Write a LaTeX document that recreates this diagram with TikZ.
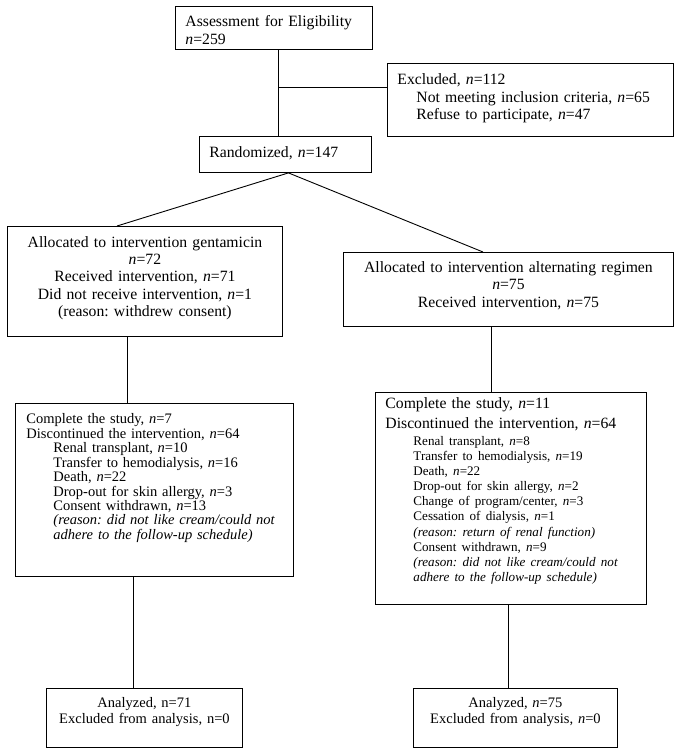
\documentclass[tikz,border=0pt]{standalone}
\usepackage{fontspec}
\setmainfont{Liberation Serif}
\usepackage{tikz}
\frenchspacing

\begin{document}
\begin{tikzpicture}[x=1pt,y=-1pt,line width=0.9pt,
  box/.style={draw,anchor=north west,inner ysep=0pt,inner xsep=10pt,align=left},
  midbox/.style={box,inner xsep=5pt,align=center},
  txt/.style={font=\fontsize{15.7}{17.3}\selectfont},
  smalltxt/.style={font=\fontsize{14.5}{14.46}\selectfont}]
\useasboundingbox (0,0) rectangle (681,752);

\draw (175,6) node[box,text width=177pt,text height=20pt,text depth=23pt,font=\fontsize{15.7}{18}\selectfont] (assess) {Assessment for Eligibility\\ \textit{n}=259};
\draw (387,63) node[box,txt,text width=266pt,text height=21.3pt,text depth=51.7pt] (excl) {Excluded, \textit{n}=112\\ \hspace*{19pt}Not meeting inclusion criteria, \textit{n}=65\\ \hspace*{19pt}Refuse to participate, \textit{n}=47};
\draw (199,136) node[box,txt,text width=152pt,text height=21.3pt,text depth=14.7pt] (rand) {Randomized, \textit{n}=147};

\draw (7,226) node[midbox,txt,text width=265pt,text height=20.7pt,text depth=89.3pt] (allocg) {Allocated to intervention gentamicin\\ \textit{n}=72\\ Received intervention, \textit{n}=71\\ Did not receive intervention, \textit{n}=1\\ (reason: withdrew consent)};
\draw (343,252) node[midbox,txt,text width=320pt,text height=20pt,text depth=54pt] (alloca) {Allocated to intervention alternating regimen\\ \textit{n}=75\\ Received intervention, \textit{n}=75};

\draw (15,403) node[box,smalltxt,inner xsep=11pt,text width=256pt,text height=20.3pt,text depth=152.7pt] (compg) {Complete the study, \textit{n}=7\\
  Discontinued the intervention, \textit{n}=64\\
  \hspace*{27pt}Renal transplant, \textit{n}=10\\
  \hspace*{27pt}Transfer to hemodialysis, \textit{n}=16\\
  \hspace*{27pt}Death, \textit{n}=22\\
  \hspace*{27pt}Drop-out for skin allergy, \textit{n}=3\\
  \hspace*{27pt}Consent withdrawn, \textit{n}=13\\
  \hspace*{27pt}\textit{(reason: did not like cream/could not}\\
  \hspace*{27pt}\textit{adhere to the follow-up schedule)}};
\draw (375,392) node[box,font=\fontsize{15.7}{15.1}\selectfont,text width=251pt,text height=16pt,text depth=196pt] (compa) {Complete the study, \textit{n}=11\\[4.9pt]
  Discontinued the intervention, \textit{n}=64\\[1.9pt]
  \fontsize{13.1}{15.1}\selectfont
  \hspace*{28pt}Renal transplant, \textit{n}=8\\
  \hspace*{28pt}Transfer to hemodialysis, \textit{n}=19\\
  \hspace*{28pt}Death, \textit{n}=22\\
  \hspace*{28pt}Drop-out for skin allergy, \textit{n}=2\\
  \hspace*{28pt}Change of program/center, \textit{n}=3\\
  \hspace*{28pt}Cessation of dialysis, \textit{n}=1\\
  \hspace*{28pt}\textit{(reason: return of renal function)}\\
  \hspace*{28pt}Consent withdrawn, \textit{n}=9\\
  \hspace*{28pt}\textit{(reason: did not like cream/could not}\\
  \hspace*{28pt}\textit{adhere to the follow-up schedule)}};

\draw (46,688) node[midbox,font=\fontsize{14.5}{16}\selectfont,text width=186pt,text height=18.7pt,text depth=40.3pt] (anag) {Analyzed, n=71\\ Excluded from analysis, n=0};
\draw (413,688) node[midbox,font=\fontsize{14.5}{16}\selectfont,text width=194pt,text height=18.7pt,text depth=40.3pt] (anaa) {Analyzed, \textit{n}=75\\ Excluded from analysis, \textit{n}=0};

\coordinate (split) at (278,87);
  \path[-] (assess.south -| split) edge (rand.north -| split);
  \path[-] (split) edge (excl.west |- split);
  \path[-] ([xshift=3pt]rand.south) edge ([xshift=110pt]allocg.north west);
  \path[-] ([xshift=3pt]rand.south) edge ([xshift=140pt]alloca.north west);
  \path[-] ([xshift=120pt]allocg.south west) edge ([xshift=112pt]compg.north west);
  \path[-] ([xshift=148pt]alloca.south west) edge ([xshift=116pt]compa.north west);
  \path[-] ([xshift=118pt]compg.south west) edge ([xshift=87pt]anag.north west);
  \path[-] ([xshift=133pt]compa.south west) edge ([xshift=95pt]anaa.north west);

\end{tikzpicture}
\end{document}
